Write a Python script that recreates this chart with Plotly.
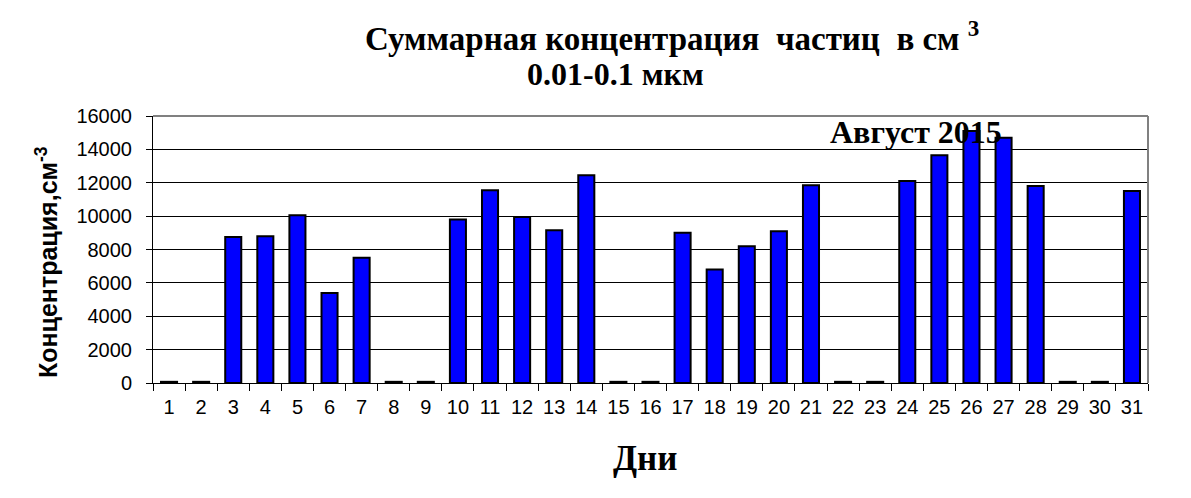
import plotly.graph_objects as go

days = [str(d) for d in range(1, 32)]
values = [70, 70, 8750, 8800, 10050, 5400, 7500, 70, 70, 9800, 11550, 9950, 9150, 12450, 70,
          70, 9000, 6800, 8200, 9100, 11850, 70, 70, 12100, 13650, 15100, 14700, 11800, 70, 70, 11500]
y_ticks = [0, 2000, 4000, 6000, 8000, 10000, 12000, 14000, 16000]
y_ticktext = [str(v) for v in y_ticks]

fig = go.Figure()
fig.add_trace(go.Bar(
    x=days, y=values,
    marker=dict(color="#0000FF", line=dict(color="black", width=2)),
))

fig.update_layout(
    width=1175, height=482,
    margin=dict(l=145, r=35, t=108, b=107),
    paper_bgcolor="white", plot_bgcolor="white",
    bargap=0.5,
    showlegend=False,
    xaxis=dict(
        type="category",
        showline=True, linecolor="black", linewidth=1,
        ticks="outside", tickson="boundaries", ticklen=7, tickcolor="black",
        ticklabelstandoff=6,
        tickfont=dict(family="Liberation Sans", size=20, color="black"),
        showgrid=False,
    ),
    yaxis=dict(
        range=[0, 16000],
        tickvals=y_ticks, ticktext=y_ticktext,
        showline=True, linecolor="black", linewidth=1,
        ticks="outside", ticklen=6, tickcolor="black",
        ticklabelstandoff=10,
        tickfont=dict(family="Liberation Sans", size=20, color="black"),
        showgrid=True, gridcolor="black", gridwidth=1,
        zeroline=False,
    ),
    shapes=[
        dict(type="line", xref="paper", yref="paper", x0=0, x1=1, y0=1, y1=1,
             line=dict(color="#808080", width=2)),
        dict(type="line", xref="paper", yref="paper", x0=1, x1=1, y0=0, y1=1,
             line=dict(color="#808080", width=2)),
    ],
    annotations=[
        dict(text="<b>Суммарная концентрация  частиц  в см <sup>3</sup></b>",
             xref="paper", yref="paper", x=0.522, y=1.0, yshift=80, showarrow=False,
             xanchor="center", yanchor="middle",
             font=dict(family="Liberation Serif", size=33, color="black")),
        dict(text="<b>0.01-0.1 мкм</b>",
             xref="paper", yref="paper", x=0.465, y=1.0, yshift=42, showarrow=False,
             xanchor="center", yanchor="middle",
             font=dict(family="Liberation Serif", size=32, color="black")),
        dict(text="<b>Август 2015</b>",
             xref="paper", yref="paper", x=0.678, y=1.0, yshift=-16, showarrow=False,
             xanchor="left", yanchor="middle",
             font=dict(family="Liberation Serif", size=32, color="black")),
        dict(text="<b>Дни</b>",
             xref="paper", yref="paper", x=0.494, y=0.0, yshift=-75, showarrow=False,
             xanchor="center", yanchor="middle",
             font=dict(family="Liberation Serif", size=35, color="black")),
        dict(text="<b>Концентрация,см<sup>-3</sup></b>",
             xref="paper", yref="paper", x=0.0, xshift=-106, y=0.453, showarrow=False,
             textangle=-90, xanchor="center", yanchor="middle",
             font=dict(family="Liberation Sans", size=25, color="black")),
    ],
)

fig.write_html("out.html")
